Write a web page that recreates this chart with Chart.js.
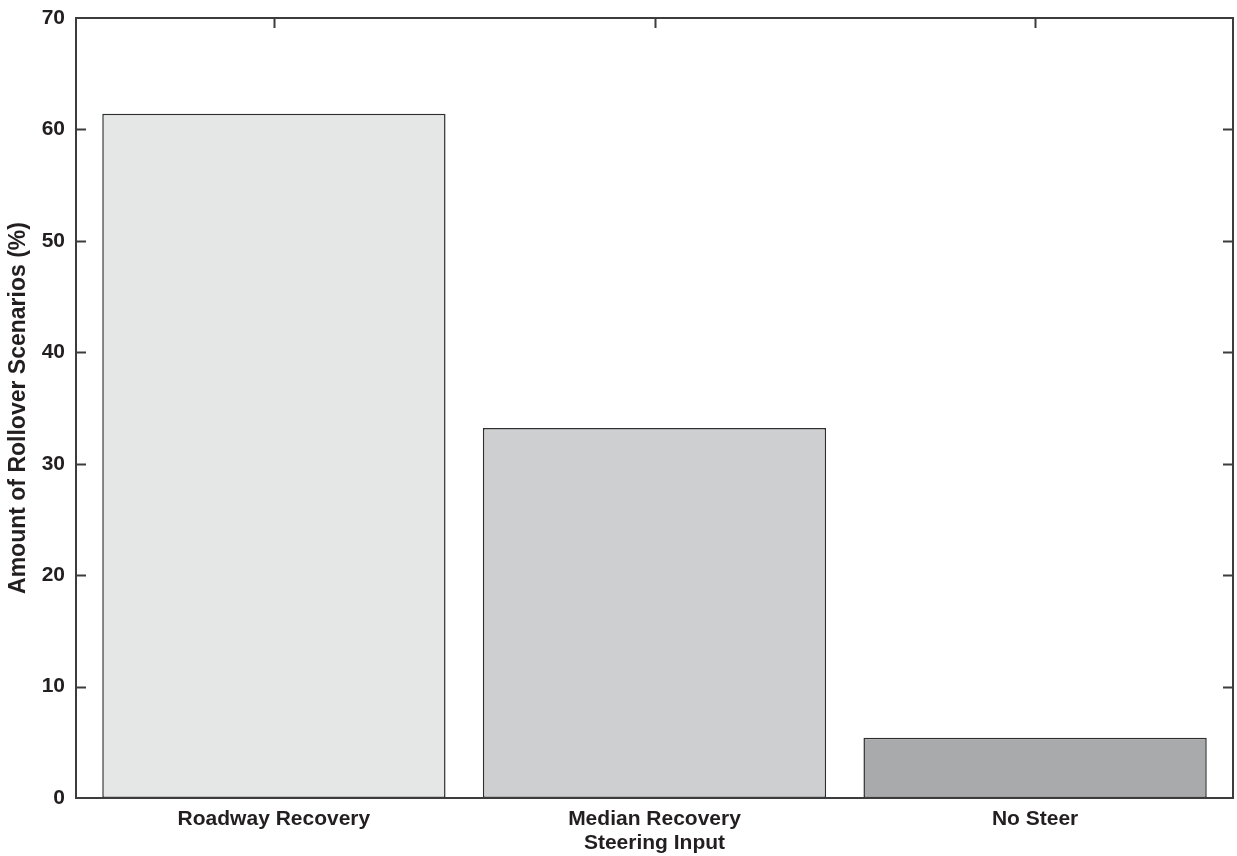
<!DOCTYPE html>
<html>
<head>
<meta charset="utf-8">
<script src="https://cdn.jsdelivr.net/npm/chart.js@4.4.1/dist/chart.umd.min.js"></script>
<style>
    html, body { margin: 0; padding: 0; background: #fff; }
    #wrap { width: 1237px; height: 856px; }
</style>
</head>
<body>
<div id="wrap"><canvas id="myChart" width="1237" height="856"></canvas></div>
<script>
var categories = ['Roadway Recovery', 'Median Recovery', 'No Steer'];
var rolloverPct = [61.4, 33.2, 5.4];
var barColors = ['#e5e7e6', '#cdcfd1', '#a9aaac'];
var yTicks = [0, 10, 20, 30, 40, 50, 60, 70];

var axisColor = '#3c3c3c';
var textColor = '#231f20';

function getBarData() {
    var pts = [];
    for (var i = 0; i < categories.length; i++) {
        pts.push({ x: i, y: rolloverPct[i] });
    }
    return pts;
}

// frame round the plot + short inward ticks (left, right, top)
var framePlugin = {
    id: 'frame',
    afterDatasetsDraw: function (chart) {
        var ctx = chart.ctx;
        var a = chart.chartArea;
        var x = chart.scales.x;
        var y = chart.scales.y;
        var len = 10;
        ctx.save();
        ctx.strokeStyle = axisColor;
        ctx.lineWidth = 2;
        ctx.strokeRect(a.left, a.top, a.right - a.left, a.bottom - a.top);
        ctx.beginPath();
        for (var i = 0; i < yTicks.length; i++) {
            if (yTicks[i] == 0 || yTicks[i] == 70) continue;
            var py = Math.round(y.getPixelForValue(yTicks[i])) + 0.5;
            ctx.moveTo(a.left, py);
            ctx.lineTo(a.left + len, py);
            ctx.moveTo(a.right, py);
            ctx.lineTo(a.right - len, py);
        }
        for (var j = 0; j < categories.length; j++) {
            var px = Math.round(x.getPixelForValue(j)) + 0.5;
            ctx.moveTo(px, a.top);
            ctx.lineTo(px, a.top + len);
        }
        ctx.stroke();
        ctx.restore();
    }
};

var ctx = document.getElementById('myChart');
var myChart = new Chart(ctx, {
    type: 'bar',
    plugins: [framePlugin],
    data: {
        datasets: [{
            label: 'Amount of Rollover Scenarios',
            data: getBarData(),
            backgroundColor: barColors,
            borderColor: '#2e2e2e',
            borderWidth: 1.5,
            borderSkipped: false,
            categoryPercentage: 1,
            barPercentage: 0.902
        }]
    },
    options: {
        responsive: false,
        animation: false,
        layout: { padding: { top: 18, right: 4, left: 0, bottom: 0 } },
        plugins: {
            legend: { display: false },
            tooltip: { enabled: false }
        },
        scales: {
            x: {
                type: 'linear',
                min: -0.52,
                max: 2.52,
                offset: false,
                grid: { display: false, drawTicks: false },
                border: { display: false },
                afterBuildTicks: function (scale) {
                    scale.ticks = categories.map(function (c, i) { return { value: i }; });
                },
                ticks: {
                    color: textColor,
                    padding: 9,
                    maxRotation: 0,
                    callback: function (value) { return categories[value]; },
                    font: { family: 'Liberation Sans', size: 21, weight: 'bold' }
                },
                title: {
                    display: true,
                    text: 'Steering Input',
                    color: textColor,
                    padding: { top: 0, bottom: 0 },
                    font: { family: 'Liberation Sans', size: 21, weight: 'bold' }
                },
                afterFit: function (scale) { scale.height = 58; }
            },
            y: {
                min: 0,
                max: 70,
                grid: { display: false, drawTicks: false },
                border: { display: false },
                afterBuildTicks: function (scale) {
                    scale.ticks = yTicks.map(function (v) { return { value: v }; });
                },
                ticks: {
                    color: textColor,
                    padding: 11,
                    font: { family: 'Liberation Sans', size: 21, weight: 'bold', lineHeight: 0.6 }
                },
                title: {
                    display: true,
                    text: 'Amount of Rollover Scenarios (%)',
                    color: textColor,
                    padding: { top: 5, bottom: 0 },
                    font: { family: 'Liberation Sans', size: 23, weight: 'bold' }
                },
                afterFit: function (scale) { scale.width = 76; }
            }
        }
    }
});
</script>
</body>
</html>
